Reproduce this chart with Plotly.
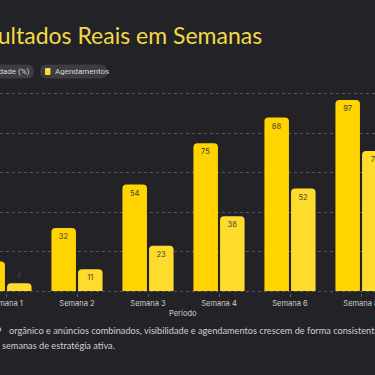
import plotly.graph_objects as go

# ---- data ----
categories = ["Semana 1", "Semana 2", "Semana 3", "Semana 4", "Semana 6", "Semana 8"]
visibilidade = [15, 32, 54, 75, 88, 97]
agendamentos = [4, 11, 23, 38, 52, 71]
series_names = ["Visibilidade (%)", "Agendamentos"]
title_text = "Resultados Reais em Semanas"
axis_title = "Período"
footer_prefix = "Com GBP"
footer_line1 = "orgânico e anúncios combinados, visibilidade e agendamentos crescem de forma consistente ao longo"
footer_line2 = "das semanas de estratégia ativa."

W, H = 375, 375
PLOT_TOP, PLOT_BOTTOM = 92, 293
Y_RANGE = [-1, 101]
BG = "#232327"
C1 = "#FFD400"
C2 = "#FFDB2C"


def px_x(p):
    return p / W


def px_y(p):
    return (PLOT_BOTTOM - p) / (PLOT_BOTTOM - PLOT_TOP)


def rounded_rect(x0, y0, x1, y1, r):
    X0, X1 = px_x(x0), px_x(x1)
    Y0, Y1 = px_y(y0), px_y(y1)
    rx = r / W
    ry = r / (PLOT_BOTTOM - PLOT_TOP)
    return (f"M {X0+rx},{Y0} L {X1-rx},{Y0} Q {X1},{Y0} {X1},{Y0-ry} "
            f"L {X1},{Y1+ry} Q {X1},{Y1} {X1-rx},{Y1} L {X0+rx},{Y1} "
            f"Q {X0},{Y1} {X0},{Y1+ry} L {X0},{Y0-ry} Q {X0},{Y0} {X0+rx},{Y0} Z")


fig = go.Figure()
for name, vals, col in [(series_names[0], visibilidade, C1), (series_names[1], agendamentos, C2)]:
    fig.add_trace(go.Bar(
        x=categories, y=vals, name=name,
        marker=dict(color=col, cornerradius=4, line=dict(width=0)),
        texttemplate="%{y}", textposition="auto",
        insidetextanchor="end", constraintext="none",
        insidetextfont=dict(color="#3b3b3b", size=7.5, family="Inter"),
        outsidetextfont=dict(color="#3e3e42", size=7.5, family="Inter"),
        cliponaxis=False,
    ))

shapes = [
    dict(type="path", xref="paper", yref="paper", path=rounded_rect(-60, 64.5, 34, 78.5, 7),
         fillcolor="#3c3c41", line=dict(width=0), layer="above"),
    dict(type="path", xref="paper", yref="paper", path=rounded_rect(40, 64.5, 107, 78.5, 7),
         fillcolor="#3c3c41", line=dict(width=0), layer="above"),
    dict(type="path", xref="paper", yref="paper", path=rounded_rect(45, 68, 50.5, 75, 1),
         fillcolor=C2, line=dict(width=0), layer="above"),
]

annotations = [
    dict(text=title_text, x=px_x(264), y=px_y(35), xref="paper", yref="paper",
         xanchor="right", yanchor="middle", showarrow=False,
         font=dict(family="Lato", size=23, color="#F2DA45")),
    dict(text=series_names[0], x=px_x(32), y=px_y(71.5), xref="paper", yref="paper",
         xanchor="right", yanchor="middle", showarrow=False,
         font=dict(family="Roboto", size=8, color="#d6d6d6")),
    dict(text=series_names[1], x=px_x(53), y=px_y(71.5), xref="paper", yref="paper",
         xanchor="left", yanchor="middle", showarrow=False,
         font=dict(family="Roboto", size=8, color="#d6d6d6")),
    dict(text=axis_title, x=px_x(183), y=px_y(313), xref="paper", yref="paper",
         xanchor="center", yanchor="middle", showarrow=False,
         font=dict(family="Inter", size=7.5, color="#cfcfcf")),
    dict(text=footer_prefix, x=px_x(3.5), y=px_y(330), xref="paper", yref="paper",
         xanchor="right", yanchor="middle", showarrow=False,
         font=dict(family="Lato", size=9.2, color="#cfcfcf")),
    dict(text=footer_line1, x=px_x(6.5), y=px_y(330), xref="paper", yref="paper",
         xanchor="left", yanchor="middle", showarrow=False,
         font=dict(family="Lato", size=9.2, color="#cfcfcf")),
    dict(text=footer_line2, x=px_x(117), y=px_y(345), xref="paper", yref="paper",
         xanchor="right", yanchor="middle", showarrow=False,
         font=dict(family="Lato", size=9.2, color="#cfcfcf")),
]

spacing = 71.0
first_center = 6.0
x0 = -first_center / spacing
x1 = x0 + W / spacing

fig.update_layout(
    width=W, height=H,
    margin=dict(l=0, r=0, t=PLOT_TOP, b=H - PLOT_BOTTOM, pad=0, autoexpand=False),
    paper_bgcolor=BG, plot_bgcolor=BG,
    barmode="group", bargap=0.25, bargroupgap=0.08,
    showlegend=False,
    shapes=shapes, annotations=annotations,
    xaxis=dict(range=[x0, x1], showgrid=False, zeroline=False, showline=False,
               automargin=False,
               ticks="outside", ticklen=3, tickcolor="#5a5a5f",
               tickfont=dict(family="Inter", size=7.5, color="#cfcfcf")),
    yaxis=dict(range=Y_RANGE, tick0=0, dtick=20, showgrid=True, gridcolor="#56565c",
               griddash="dot", gridwidth=1, zeroline=False, showticklabels=False,
               showline=False, automargin=False),
)

fig.write_html(
    "out.html",
    config={"displayModeBar": False},
    post_script="document.body.style.margin='0';document.body.style.padding='0';"
                "document.body.style.overflow='hidden';"
                "document.documentElement.style.overflow='hidden';"
                "document.body.style.background='" + BG + "';",
)
